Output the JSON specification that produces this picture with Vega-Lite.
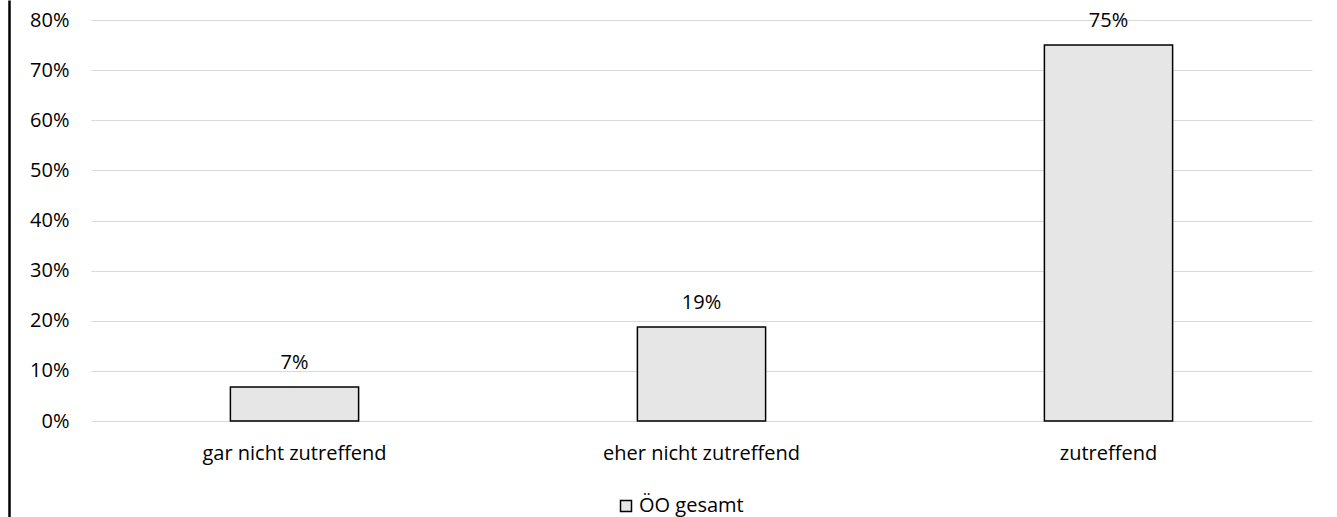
{
  "$schema": "https://vega.github.io/schema/vega-lite/v6.json",
  "autosize": {"type": "none"},
  "width": 1221,
  "height": 401,
  "padding": {"left": 91, "top": 20, "right": 25, "bottom": 96},
  "background": "white",
  "config": {
    "font": "Open Sans",
    "view": {"stroke": null},
    "axis": {"labelFont": "Open Sans", "labelFontSize": 20, "labelColor": "#000000", "labelLimit": 400}
  },
  "data": {
    "values": [
      {"kategorie": "gar nicht zutreffend", "anteil": 0.068, "serie": "ÖO gesamt"},
      {"kategorie": "eher nicht zutreffend", "anteil": 0.1875, "serie": "ÖO gesamt"},
      {"kategorie": "zutreffend", "anteil": 0.75, "serie": "ÖO gesamt"}
    ]
  },
  "encoding": {
    "x": {
      "field": "kategorie",
      "type": "nominal",
      "sort": null,
      "scale": {"paddingInner": 0.685, "paddingOuter": 0.3425},
      "axis": {"title": null, "labelAngle": 0, "ticks": false, "domain": false, "labelPadding": 22, "labelLimit": 400}
    }
  },
  "layer": [
    {
      "mark": {"type": "bar", "stroke": "#000000", "strokeWidth": 1.5},
      "encoding": {
        "y": {
          "field": "anteil",
          "type": "quantitative",
          "scale": {"domain": [0, 0.8], "nice": false},
          "axis": {
            "title": null,
            "format": ".0%",
            "values": [0, 0.1, 0.2, 0.3, 0.4, 0.5, 0.6, 0.7, 0.8],
            "ticks": false,
            "domain": false,
            "labelPadding": 22,
            "gridColor": "#D9D9D9",
            "gridWidth": 1
          }
        },
        "color": {
          "field": "serie",
          "type": "nominal",
          "scale": {"range": ["#E7E6E6"]},
          "legend": {
            "title": null,
            "orient": "none",
            "legendX": 525,
            "legendY": 476,
            "symbolType": "square",
            "symbolSize": 121,
            "symbolStrokeColor": "#000000",
            "symbolStrokeWidth": 1.5,
            "symbolOpacity": 1,
            "labelFontSize": 20,
            "labelFont": "Open Sans",
            "labelColor": "#000000",
            "labelOffset": 3
          }
        }
      }
    },
    {
      "mark": {"type": "text", "baseline": "alphabetic", "dy": -18, "fontSize": 20, "font": "Open Sans", "color": "#000000"},
      "encoding": {
        "y": {
          "field": "anteil",
          "type": "quantitative",
          "scale": {"domain": [-0.19152, 0.8399], "range": [497, -20], "nice": false, "zero": false},
          "axis": {
            "title": null,
            "orient": "left",
            "offset": 82,
            "labels": false,
            "ticks": false,
            "grid": false,
            "domain": true,
            "domainColor": "#000000",
            "domainWidth": 2.5
          }
        },
        "text": {"field": "anteil", "type": "quantitative", "format": ".0%"}
      }
    }
  ],
  "resolve": {"scale": {"y": "independent"}, "axis": {"y": "independent"}}
}
